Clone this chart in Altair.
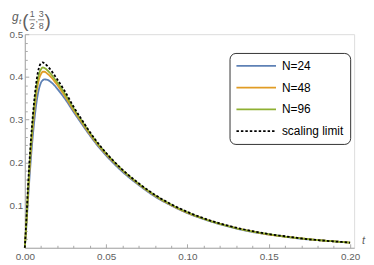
import altair as alt
import pandas as pd

# ---- data ----
t_vals = [0, 0.001, 0.002, 0.003, 0.004, 0.005, 0.006, 0.007, 0.008, 0.009, 0.010,
          0.011, 0.012, 0.014, 0.016, 0.018, 0.020, 0.025, 0.030, 0.035, 0.040,
          0.045, 0.050, 0.060, 0.070, 0.080, 0.090, 0.100, 0.110, 0.120, 0.130,
          0.140, 0.150, 0.160, 0.170, 0.180, 0.190, 0.200]
limit = [0, 0.07, 0.145, 0.21, 0.265, 0.312, 0.352, 0.385, 0.41, 0.425, 0.432,
         0.434, 0.432, 0.425, 0.416, 0.405, 0.394, 0.364, 0.330, 0.300, 0.271,
         0.245, 0.222, 0.183, 0.151, 0.124, 0.102, 0.084, 0.069, 0.057, 0.047,
         0.039, 0.032, 0.027, 0.022, 0.018, 0.015, 0.012]
n96 = [0, 0.064, 0.136, 0.199, 0.253, 0.299, 0.338, 0.37, 0.394, 0.41, 0.418,
       0.422, 0.421, 0.415, 0.407, 0.397, 0.387, 0.358, 0.326, 0.297, 0.269,
       0.243, 0.221, 0.182, 0.150, 0.123, 0.101, 0.083, 0.068, 0.056, 0.046,
       0.038, 0.032, 0.026, 0.022, 0.018, 0.015, 0.012]
n48 = [0, 0.06, 0.128, 0.189, 0.242, 0.287, 0.326, 0.358, 0.382, 0.398, 0.407,
       0.412, 0.412, 0.407, 0.400, 0.391, 0.381, 0.353, 0.322, 0.294, 0.266,
       0.241, 0.219, 0.181, 0.149, 0.122, 0.100, 0.082, 0.068, 0.056, 0.046,
       0.038, 0.031, 0.026, 0.022, 0.018, 0.015, 0.012]
n24 = [0, 0.052, 0.114, 0.17, 0.221, 0.265, 0.303, 0.335, 0.359, 0.376, 0.387,
       0.392, 0.394, 0.393, 0.388, 0.381, 0.372, 0.347, 0.318, 0.290, 0.263,
       0.238, 0.216, 0.178, 0.147, 0.120, 0.099, 0.081, 0.067, 0.055, 0.045,
       0.037, 0.031, 0.026, 0.021, 0.018, 0.015, 0.012]

series_names = ["N=24", "N=48", "N=96", "scaling limit"]
series_vals = [n24, n48, n96, limit]

x_major = [0.0, 0.05, 0.10, 0.15, 0.20]
x_minor = [0.01, 0.02, 0.03, 0.04, 0.06, 0.07, 0.08, 0.09, 0.11, 0.12, 0.13,
           0.14, 0.16, 0.17, 0.18, 0.19]
y_major = [0.1, 0.2, 0.3, 0.4, 0.5]
y_minor = [0.02, 0.04, 0.06, 0.08, 0.12, 0.14, 0.16, 0.18, 0.22, 0.24, 0.26,
           0.28, 0.32, 0.34, 0.36, 0.38, 0.42, 0.44, 0.46, 0.48]

rows = []
for name, vals in zip(series_names, series_vals):
    for tv, v in zip(t_vals, vals):
        rows.append({"t": tv, "value": v, "series": name})
df = pd.DataFrame(rows)

# ---- styling ----
W, H = 333, 216
AXIS = "#a8a8a8"
LABEL = "#606060"
FONT = "Liberation Sans"
colors = ["#5E81B5", "#E19C24", "#8FB032", "#000000"]
dashes = [[1, 0], [1, 0], [1, 0], [2.5, 2]]
widths = [1.8, 1.8, 1.8, 2.6]

xs = alt.Scale(domain=[0, 0.2025], nice=False)
ys = alt.Scale(domain=[0, 0.5], nice=False)

legend = alt.Legend(title=None, orient="none", legendX=207, legendY=19,
                    symbolType="stroke", symbolSize=1600, symbolStrokeWidth=2,
                    labelFontSize=12, labelColor="black", labelFont=FONT,
                    labelOffset=5, rowPadding=8, padding=6, clipHeight=14,
                    strokeColor="#333333", cornerRadius=6, fillColor="white")

lines = alt.Chart(df).mark_line(interpolate="monotone").encode(
    x=alt.X("t:Q", scale=xs, axis=alt.Axis(values=x_major, format=".2f", ticks=False,
                                           grid=False, title=None, domainColor=AXIS,
                                           labelColor=LABEL, labelFont=FONT,
                                           labelFontSize=10, labelPadding=4,
                                           labelFlush=False)),
    y=alt.Y("value:Q", scale=ys, axis=alt.Axis(values=y_major, format=".1f", ticks=False,
                                               grid=False, title=None, domainColor=AXIS,
                                               labelColor=LABEL, labelFont=FONT,
                                               labelFontSize=10, labelPadding=2)),
    color=alt.Color("series:N", scale=alt.Scale(domain=series_names, range=colors),
                    legend=legend),
    strokeDash=alt.StrokeDash("series:N", scale=alt.Scale(domain=series_names, range=dashes),
                              legend=legend),
    strokeWidth=alt.StrokeWidth("series:N", scale=alt.Scale(domain=series_names, range=widths),
                                legend=None),
)


def tick_layer(xv, yv, size):
    return alt.Chart(df).mark_line(opacity=0).encode(
        x=alt.X("t:Q", scale=xs, axis=alt.Axis(orient="top", offset=-H, values=xv,
                                               labels=False, domain=False, grid=False,
                                               title=None, tickSize=size, tickColor=AXIS)),
        y=alt.Y("value:Q", scale=ys, axis=alt.Axis(orient="right", offset=-W, values=yv,
                                                   labels=False, domain=False, grid=False,
                                                   title=None, tickSize=size, tickColor=AXIS)),
    )


one = alt.Data(values=[{}])


def txt(s, x, y, size, italic=False, align="center", color=LABEL):
    return alt.Chart(one).mark_text(text=s, fontSize=size, font=FONT, color=color,
                                    fontStyle="italic" if italic else "normal",
                                    align=align, baseline="alphabetic").encode(
        x=alt.value(x), y=alt.value(y))


def bar(x1, x2, y):
    return alt.Chart(one).mark_rule(color=LABEL, strokeWidth=0.8).encode(
        x=alt.value(x1), x2=alt.value(x2), y=alt.value(y))


label_layers = [
    txt("g", -13, -13, 12, italic=True, align="left"),
    txt("t", -6, -10, 8, italic=True, align="left"),
    txt("(", -2.5, -7, 19, align="left"),
    txt("1", 7.5, -17, 9),
    bar(4.5, 10.5, -14.5),
    txt("2", 7.5, -5, 9),
    txt(",", 12, -12, 9),
    txt("3", 16.5, -17, 9),
    bar(13.5, 19.5, -14.5),
    txt("8", 16.5, -5, 9),
    txt(")", 20, -7, 19, align="left"),
    txt("t", 341, 212, 11, italic=True, align="left"),
]

chart = alt.layer(
    tick_layer(x_major, y_major, 4),
    tick_layer(x_minor, y_minor, 2.5),
    lines,
    *label_layers,
).resolve_axis(x="independent", y="independent").properties(
    width=W, height=H, autosize=alt.AutoSizeParams(type="none"),
    padding={"left": 17, "top": 25, "right": 12, "bottom": 20},
).configure_view(stroke=None).configure(background="white")

chart.save("out.html", embed_options={"renderer": "svg", "actions": False})
